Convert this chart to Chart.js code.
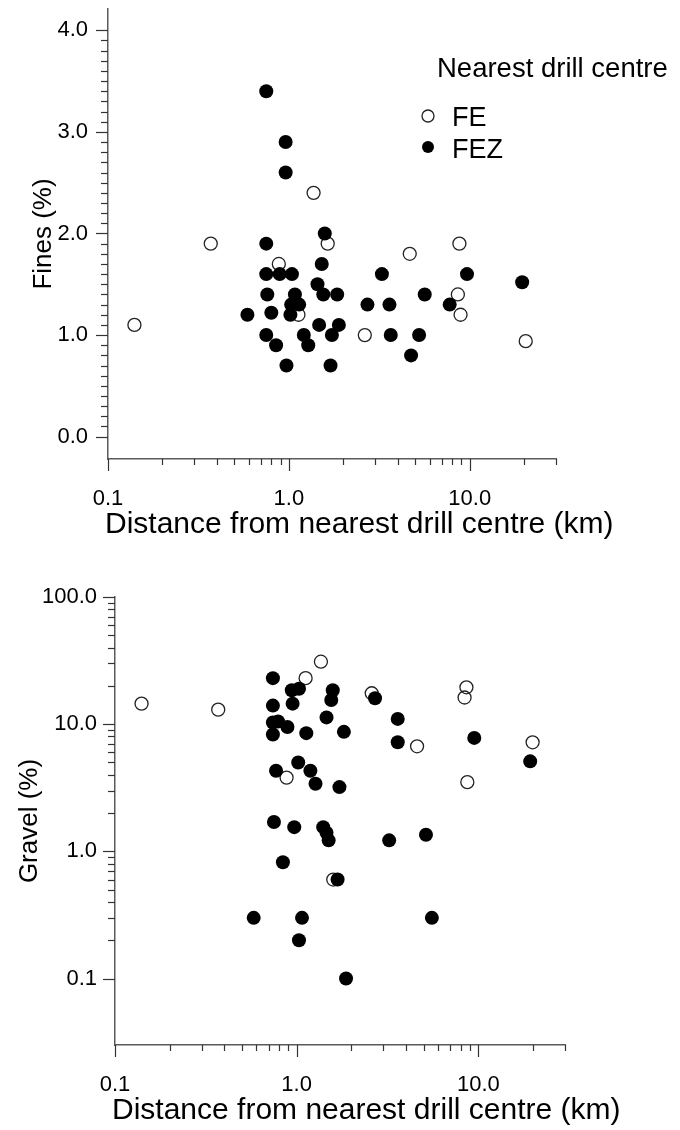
<!DOCTYPE html>
<html>
<head>
<meta charset="utf-8">
<script src="https://cdn.jsdelivr.net/npm/chart.js@4.4.1/dist/chart.umd.min.js"></script>
<style>
  html, body { margin: 0; padding: 0; background: #fff; }
  #wrap { position: relative; width: 680px; height: 1130px; }
  canvas { position: absolute; left: 0; }
  #fines { top: 0; }
  #gravel { top: 560px; }
</style>
</head>
<body>
<div id="wrap">
  <canvas id="fines" width="680" height="560"></canvas>
  <canvas id="gravel" width="680" height="570"></canvas>
</div>
<script>
// Fines content vs distance to the nearest drill centre
const finesFE_x  = [0.14, 0.37, 0.88, 1.13, 1.37, 1.64, 2.63, 4.66, 8.6, 8.77, 8.9, 20.4];
const finesFE_y  = [1.1, 1.9, 1.7, 1.2, 2.4, 1.9, 1.0, 1.8, 1.4, 1.9, 1.2, 0.94];
const finesFEZ_x = [0.59, 0.75, 0.75, 0.75, 0.76, 0.75, 0.80, 0.85, 0.89, 0.96, 0.96, 0.97, 1.02,
                    1.03, 1.04, 1.08, 1.14, 1.21, 1.28, 1.44, 1.47, 1.52, 1.55, 1.58, 1.70, 1.73,
                    1.85, 1.89, 2.72, 3.27, 3.6, 3.66, 4.74, 5.25, 5.64, 7.75, 9.66, 19.5];
const finesFEZ_y = [1.2, 3.4, 1.9, 1.6, 1.4, 1.0, 1.22, 0.9, 1.6, 2.9, 2.6, 0.7, 1.2,
                    1.3, 1.6, 1.4, 1.3, 1.0, 0.9, 1.5, 1.1, 1.7, 1.4, 2.0, 0.7, 1.0,
                    1.4, 1.1, 1.3, 1.6, 1.3, 1.0, 0.8, 1.0, 1.4, 1.3, 1.6, 1.52];

// Gravel content vs distance to the nearest drill centre
const gravelFE_x  = [0.14, 0.37, 0.88, 1.12, 1.36, 1.59, 2.59, 4.6, 8.4, 8.6, 8.7, 19.9];
const gravelFE_y  = [14.5, 13, 3.8, 23, 31, 0.6, 17.5, 6.7, 16.2, 19.5, 3.5, 7.2];
const gravelFEZ_x = [0.58, 0.74, 0.74, 0.74, 0.74, 0.75, 0.77, 0.79, 0.84, 0.89, 0.94, 0.95, 0.97,
                     1.02, 1.03, 1.03, 1.07, 1.13, 1.19, 1.27, 1.40, 1.46, 1.46, 1.50, 1.55, 1.58,
                     1.68, 1.72, 1.82, 1.87, 2.7, 3.23, 3.6, 3.6, 5.15, 5.55, 9.5, 19.3];
const gravelFEZ_y = [0.3, 23, 14, 10.3, 8.3, 1.7, 4.3, 10.5, 0.82, 9.5, 18.5, 14.5, 1.55,
                     5.0, 19, 0.2, 0.3, 8.5, 4.3, 3.4, 1.55, 11.3, 1.4, 1.22, 15.5, 18.5,
                     0.6, 3.2, 8.7, 0.1, 16, 1.22, 11, 7.2, 1.35, 0.3, 7.8, 5.1];

// Axis tick values
const distTicks      = [0.1, 1, 10];
const distMinor      = [0.2, 0.3, 0.4, 0.5, 0.6, 0.7, 0.8, 0.9, 2, 3, 4, 5, 6, 7, 8, 9, 20, 30];
const finesTicks     = [0, 1, 2, 3, 4];
const gravelTicks    = [0.1, 1, 10, 100];
const gravelMinor    = [0.2, 0.3, 0.4, 0.5, 0.6, 0.7, 0.8, 0.9, 2, 3, 4, 5, 6, 7, 8, 9,
                        20, 30, 40, 50, 60, 70, 80, 90];
const finesMinor = [];
for (let i = 1; i < 40; i++) if (i % 10) finesMinor.push(i / 10);

const distTitle = 'Distance from nearest drill centre (km)';
const legendTitle = 'Nearest drill centre';
const seriesNames = ['FE', 'FEZ'];

const FONT = '"Liberation Sans", Arial, Helvetica, sans-serif';
const AXIS_COLOR = '#5a5a5a';
const TICK_COLOR = '#333';

function pts(xs, ys) { return xs.map((x, i) => ({ x, y: ys[i] })); }

const openStyle = { backgroundColor: 'rgba(0,0,0,0)', borderColor: '#222', borderWidth: 1.3, pointRadius: 6.5 };
const solidStyle = { backgroundColor: '#000', borderColor: '#000', borderWidth: 0, pointRadius: 7 };

// Outward tick marks of two lengths, positioned through the chart's scales
function tickMarks(spec) {
  return {
    id: 'tickMarks',
    afterDraw(chart) {
      const ctx = chart.ctx;
      ctx.save();
      ctx.strokeStyle = TICK_COLOR;
      ctx.lineWidth = 1.2;
      for (const id of Object.keys(spec)) {
        const s = chart.scales[id];
        for (const { values, len } of spec[id]) {
          for (const v of values) {
            const p = Math.round(s.getPixelForValue(v)) + 0.5;
            ctx.beginPath();
            if (s.isHorizontal()) { ctx.moveTo(p, s.top); ctx.lineTo(p, s.top + len); }
            else { ctx.moveTo(s.right, p); ctx.lineTo(s.right - len, p); }
            ctx.stroke();
          }
        }
      }
      ctx.restore();
    }
  };
}

// Distance axis title, free to run past the plot's right edge
const xTitlePlugin = {
  id: 'xTitle',
  afterDraw(chart) {
    const s = chart.scales.x;
    const ctx = chart.ctx;
    ctx.save();
    ctx.fillStyle = '#000';
    ctx.font = '30px ' + FONT;
    ctx.textAlign = 'left';
    ctx.textBaseline = 'alphabetic';
    ctx.fillText(distTitle, s.left - 3, s.top + 74);
    ctx.restore();
  }
};

// Legend drawn inside the plot area, using the datasets' own marker styles
const legendPlugin = {
  id: 'innerLegend',
  afterDraw(chart) {
    const ctx = chart.ctx;
    ctx.save();
    ctx.fillStyle = '#000';
    ctx.textBaseline = 'alphabetic';
    ctx.textAlign = 'left';
    ctx.font = '27.5px ' + FONT;
    ctx.fillText(legendTitle, 437, 77);
    const rows = [{ y: 116, base: 126 }, { y: 147, base: 158 }];
    chart.data.datasets.forEach((ds, i) => {
      const r = rows[i];
      ctx.beginPath();
      ctx.arc(428, r.y, 6, 0, Math.PI * 2);
      if (ds.borderWidth) {
        ctx.lineWidth = 1.3; ctx.strokeStyle = ds.borderColor; ctx.stroke();
      } else {
        ctx.fillStyle = ds.backgroundColor; ctx.fill();
      }
      ctx.fillStyle = '#000';
      ctx.font = '27px ' + FONT;
      ctx.fillText(ds.label, 452, r.base);
    });
    ctx.restore();
  }
};

// Fixed axis boxes so the plot areas sit where intended
function fixedWidth(w) { return (s) => { s.width = w; s.paddingTop = 0; s.paddingBottom = 0; }; }
function fixedHeight(h) { return (s) => { s.height = h; s.paddingLeft = 0; s.paddingRight = 0; }; }
function setTicks(vals) { return (s) => { s.ticks = vals.map(v => ({ value: v })); }; }

const tickFont = { family: FONT, size: 22 };

function baseOpts() {
  return {
    responsive: false,
    animation: false,
    devicePixelRatio: 1,
    events: [],
    plugins: { legend: { display: false }, tooltip: { enabled: false } }
  };
}

function distAxis(height) {
  return {
    type: 'logarithmic', min: 0.1, max: 30,
    afterBuildTicks: setTicks(distTicks),
    afterFit: fixedHeight(height),
    grid: { display: false, drawTicks: false },
    border: { display: true, color: AXIS_COLOR, width: 1.5 },
    ticks: { color: '#000', font: tickFont, padding: 27, maxRotation: 0, autoSkip: false,
             callback: v => Number(v).toFixed(1) },
    title: { display: false }
  };
}

// Top panel: fines
new Chart(document.getElementById('fines'), {
  type: 'scatter',
  data: {
    datasets: [
      Object.assign({ label: seriesNames[0], data: pts(finesFE_x, finesFE_y), order: 2 }, openStyle),
      Object.assign({ label: seriesNames[1], data: pts(finesFEZ_x, finesFEZ_y), order: 1 }, solidStyle)
    ]
  },
  options: Object.assign(baseOpts(), {
    layout: { padding: { top: 9, right: 124, left: 0, bottom: 0 } },
    scales: {
      x: distAxis(101),
      y: {
        type: 'linear', min: -0.22, max: 4.21,
        afterBuildTicks: setTicks(finesTicks),
        afterFit: fixedWidth(108),
        grid: { display: false, drawTicks: false },
        border: { display: true, color: AXIS_COLOR, width: 1.5 },
        ticks: { color: '#000', font: tickFont, padding: 20, autoSkip: false,
                 callback: v => Number(v).toFixed(1) },
        title: { display: true, text: 'Fines (%)', color: '#000',
                 font: { family: FONT, size: 26 }, padding: { top: 28, bottom: 0 } }
      }
    }
  }),
  plugins: [
    tickMarks({
      x: [{ values: distTicks, len: 12 }, { values: distMinor, len: 6 }],
      y: [{ values: finesTicks, len: 12 }, { values: finesMinor, len: 7 }]
    }),
    xTitlePlugin,
    legendPlugin
  ]
});

// Bottom panel: gravel
new Chart(document.getElementById('gravel'), {
  type: 'scatter',
  data: {
    datasets: [
      Object.assign({ label: seriesNames[0], data: pts(gravelFE_x, gravelFE_y), order: 2 }, openStyle),
      Object.assign({ label: seriesNames[1], data: pts(gravelFEZ_x, gravelFEZ_y), order: 1 }, solidStyle)
    ]
  },
  options: Object.assign(baseOpts(), {
    layout: { padding: { top: 37, right: 115, left: 0, bottom: 0 } },
    scales: {
      x: distAxis(85),
      y: {
        type: 'logarithmic', min: 0.03, max: 100,
        afterBuildTicks: setTicks(gravelTicks),
        afterFit: fixedWidth(115),
        grid: { display: false, drawTicks: false },
        border: { display: true, color: AXIS_COLOR, width: 1.5 },
        ticks: { color: '#000', font: tickFont, padding: 18, autoSkip: false,
                 callback: v => Number(v).toFixed(1) },
        title: { display: true, text: 'Gravel (%)', color: '#000',
                 font: { family: FONT, size: 26 }, padding: { top: 14, bottom: 0 } }
      }
    }
  }),
  plugins: [
    tickMarks({
      x: [{ values: distTicks, len: 12 }, { values: distMinor, len: 6 }],
      y: [{ values: gravelTicks, len: 12 }, { values: gravelMinor, len: 7 }]
    }),
    xTitlePlugin
  ]
});
</script>
</body>
</html>
